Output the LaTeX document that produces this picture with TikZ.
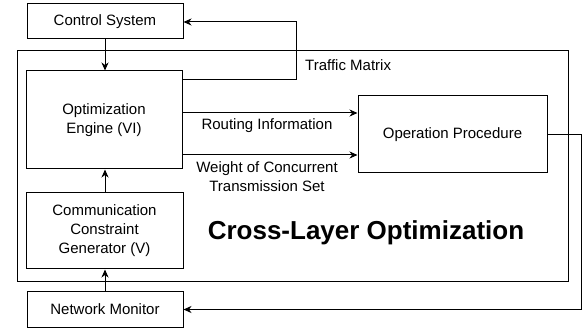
\documentclass[tikz,border=0pt]{standalone}
\usepackage{fontspec}
\setmainfont{Liberation Sans}
\usetikzlibrary{arrows.meta}
\begin{document}
\begin{tikzpicture}[x=1pt,y=-1pt,
  box/.style={draw, line width=1pt, inner sep=0pt, align=center, font=\fontsize{15}{19}\selectfont},
  lbl/.style={inner sep=0pt, align=center, font=\fontsize{15}{19}\selectfont},
  conn/.style={line width=1pt, -{Stealth[length=8pt,width=7pt,inset=2.5pt]}},
  plain/.style={line width=1pt}]
\useasboundingbox (0,0) rectangle (584,331);
\node[draw, line width=1pt, minimum width=551pt, minimum height=231pt, inner sep=0pt] (big) at (292.5,166.5) {};
\node[box, minimum width=156pt, minimum height=35pt] (cs) at (105,21.5) {Control System};
\node[box, minimum width=156pt, minimum height=98pt] (oe) at (104,120) {Optimization\\Engine (VI)};
\node[box, minimum width=157pt, minimum height=76pt] (cc) at (104.5,231) {Communication\\Constraint\\Generator (V)};
\node[box, minimum width=156pt, minimum height=35pt] (nm) at (105,309.5) {Network Monitor};
\node[box, minimum width=189pt, minimum height=77pt] (op) at (452.5,134.5) {Operation Procedure};
\node[inner sep=0pt, font=\fontsize{26}{30}\selectfont\bfseries] (title) at (366,233) {Cross-Layer Optimization};
\coordinate (tmA) at (296,80);
\coordinate (tmB) at (296,22);
\coordinate (opA) at (581,134.5);
\coordinate (opB) at (581,309.5);
\draw[conn] (cs.south -| 105,0) -- (oe.north -| 105,0);
\draw[conn] (oe.east |- tmA) -- (tmA) -- (tmB) -- (cs.east |- tmB);
\node[lbl, anchor=west] (tml) at (305,65) {Traffic Matrix};
\draw[conn] (oe.east |- 0,113) -- (op.west |- 0,113);
\node[lbl] (ri) at (267,126) {Routing Information};
\draw[conn] (oe.east |- 0,155) -- (op.west |- 0,155);
\node[lbl] (wc) at (267,176.5) {Weight of Concurrent\\Transmission Set};
\draw[conn] (cc.north -| 105,0) -- (oe.south -| 105,0);
\draw[conn] (nm.north -| 105,0) -- (cc.south -| 105,0);
\draw[conn] (op.east) -- (opA) -- (opB) -- (nm.east);
\end{tikzpicture}
\end{document}
